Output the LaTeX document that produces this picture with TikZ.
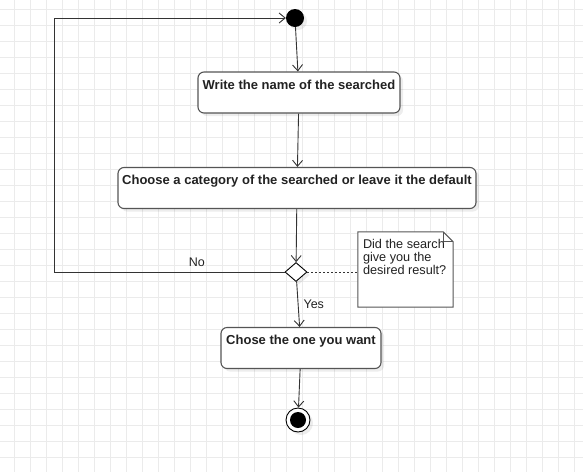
\documentclass[tikz,border=0pt]{standalone}
\usepackage{fontspec}
\setmainfont{Liberation Sans}
\usetikzlibrary{positioning, arrows.meta, shapes.geometric, shadows, calc}

\definecolor{gridgray}{HTML}{EBEBEB}
\definecolor{linegray}{HTML}{333333}
\definecolor{boxgray}{HTML}{555555}
\definecolor{textgray}{HTML}{222222}

\tikzset{
  gridline/.style={gridgray, line width=1pt},
  flow/.style={linegray, line width=0.9pt, -{Straight Barb[length=6pt, width=10pt]}},
  softshadow/.style={drop shadow={shadow xshift=3pt, shadow yshift=-3pt, fill=black, opacity=0.07}},
  actbox/.style={draw=boxgray, line width=1.1pt, rounded corners=6pt, fill=white, softshadow,
    font=\fontsize{13}{15}\selectfont\bfseries, text=textgray,
    minimum height=41pt, inner ysep=4pt, text height=13pt, text depth=20pt, inner xsep=2pt},
  startdot/.style={circle, fill=black, minimum size=18pt, inner sep=0pt, softshadow},
  endring/.style={circle, draw=black, line width=0.9pt, fill=white, minimum size=24pt, inner sep=0pt, softshadow},
  enddot/.style={circle, fill=black, minimum size=16pt, inner sep=0pt},
  choice/.style={diamond, draw=black, line width=0.9pt, fill=white, minimum width=22pt, minimum height=19pt, inner sep=0pt, softshadow},
  noteline/.style={draw=boxgray, line width=1pt, fill=white},
  notetext/.style={font=\fontsize{12.7}{13.3}\selectfont, text=textgray, align=left, inner sep=0pt},
  edgelabel/.style={font=\fontsize{12.5}{14}\selectfont, text=textgray, inner sep=2pt}
}

\begin{document}
\begin{tikzpicture}[x=1pt, y=-1pt]
  \useasboundingbox (0,0) rectangle (583,472);
  % background grid
  \foreach \x in {14,30,...,574} \draw[gridline] (\x,0) -- (\x,472);
  \foreach \y in {9,25,...,457} \draw[gridline] (0,\y) -- (583,\y);

  % activity nodes
  \node[startdot] (start) at (295,18) {};
  \node[actbox, minimum width=202pt] (write) at (299,92.5) {Write the name of the searched};
  \node[actbox, minimum width=358pt] (category) at (297,188) {Choose a category of the searched or leave it the default};
  \node[choice] (decide) at (296,272) {};
  \node[actbox, minimum width=160pt] (chose) at (301,348) {Chose the one you want};
  \node[endring] (stop) at (298,420) {};
  \node[enddot] (stopdot) at (stop) {};
  \coordinate (corner) at (54,272);

  % note
  \node[minimum width=95pt, minimum height=75pt, inner sep=0pt] (note) at (405.5,269.5) {};
  \draw[noteline] (note.north west) -- ([xshift=-10pt]note.north east) -- ([yshift=-10pt]note.north east)
    -- (note.south east) -- (note.south west) -- cycle;
  \draw[boxgray, line width=0.8pt] ([xshift=-10pt]note.north east) -- ([xshift=-10pt, yshift=-10pt]note.north east)
    -- ([yshift=-10pt]note.north east);
  \node[notetext, anchor=north west] (notetxt) at ([xshift=5pt, yshift=-7pt]note.north west)
    {Did the search\\give you the\\desired result?};

  % connectors
  \draw[flow] (start) -- (write);
  \draw[flow] (write) -- (category);
  \draw[flow] (category) -- (decide);
  \draw[flow] (decide) -- node[edgelabel, right, pos=0.5, xshift=3pt] {Yes} (chose);
  \draw[flow] (chose) -- (stop);
  \draw[flow] (decide.west) -- node[edgelabel, above, pos=0.38, yshift=3pt] {No} (corner) |- (start.west);
  \draw[linegray, line width=0.9pt, dash pattern=on 2pt off 2pt] (decide.east) -- (decide.east -| note.west);
\end{tikzpicture}
\end{document}
